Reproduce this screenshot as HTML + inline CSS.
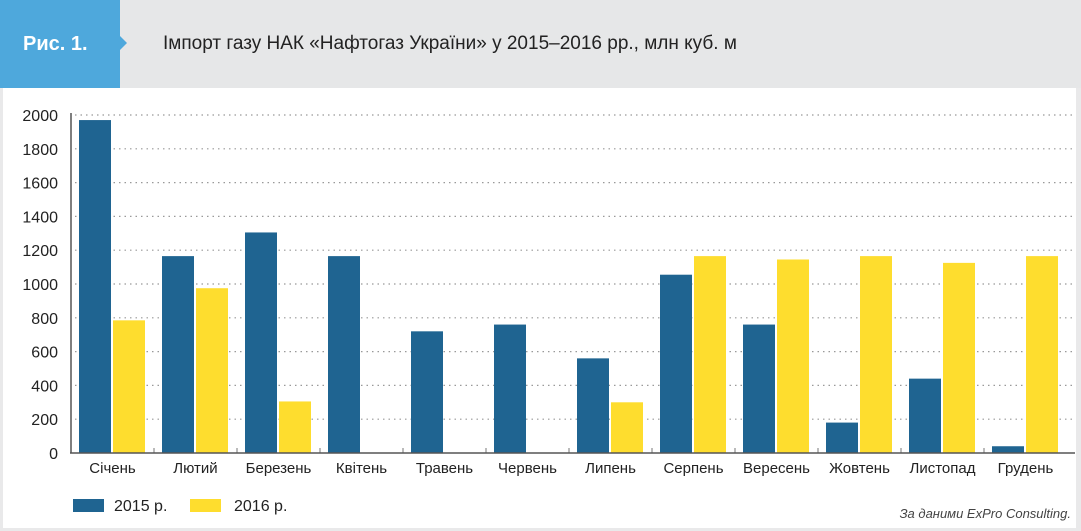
<!DOCTYPE html>
<html><head><meta charset="utf-8"><style>
body{margin:0;width:1081px;height:531px;background:#e9e9ea;font-family:"Liberation Sans",sans-serif;overflow:hidden;position:relative}
.hdr{position:absolute;left:0;top:0;width:1081px;height:88px;background:#e6e7e8}
.tab{position:absolute;left:0;top:0;width:120px;height:88px;background:#4ea8dc}
.arrow{position:absolute;left:119px;top:35px;width:0;height:0;border-top:8px solid transparent;border-bottom:8px solid transparent;border-left:8px solid #4ea8dc}
.tabt{position:absolute;left:23px;top:33px;color:#fff;font-weight:bold;font-size:20px}
.title{position:absolute;left:163px;top:33px;font-size:19px;color:#222}
.panel{position:absolute;left:3px;top:88px;width:1073px;height:440px;background:#fff}
</style></head><body>
<div class="hdr"></div>
<div class="tab"></div>
<div class="arrow"></div>
<div class="tabt">Рис. 1.</div>
<div class="title">Імпорт газу НАК «Нафтогаз України» у 2015–2016 рр., млн куб. м</div>
<div class="panel"></div>
<svg id="c" width="1081" height="531" style="position:absolute;left:0;top:0"></svg>
<script>
const categories=["Січень","Лютий","Березень","Квітень","Травень","Червень","Липень","Серпень","Вересень","Жовтень","Листопад","Грудень"];
const values2015=[1970,1165,1305,1165,720,760,560,1055,760,180,440,40];
const values2016=[785,975,305,0,0,0,300,1165,1145,1165,1125,1165];
const yTicks=[0,200,400,600,800,1000,1200,1400,1600,1800,2000];
const seriesNames=["2015 р.","2016 р."];
const NS="http://www.w3.org/2000/svg",svg=document.getElementById('c');
const x0=71,cw=83,yb=453,yt=115,ymax=2000;
const y=v=>yb-(v/ymax)*(yb-yt);
function mk(t,a,txt){const e=document.createElementNS(NS,t);for(const k in a)e.setAttribute(k,a[k]);if(txt!=null)e.textContent=txt;svg.appendChild(e);return e;}
yTicks.forEach(v=>{
 if(v>0){const g=mk('line',{x1:75,x2:1075,y1:y(v),y2:y(v),stroke:'#999','stroke-dasharray':'1.5 4','stroke-width':1.2});
 }
 const t=mk('text',{x:58,y:y(v)+6,'text-anchor':'end','font-size':16,fill:'#222','font-family':'Liberation Sans'},v);
 
});
categories.forEach((c,i)=>{
 const cx=x0+i*cw;
 const b1=mk('rect',{x:cx+8,y:y(values2015[i]),width:32,height:yb-y(values2015[i]),fill:'#1f6491'});
 
 const b2=mk('rect',{x:cx+42,y:y(values2016[i]),width:32,height:yb-y(values2016[i]),fill:'#fedd2e'});
 
 if(i>0){const tk=mk('line',{x1:cx,x2:cx,y1:yb-5,y2:yb,stroke:'#777'});}
 const t=mk('text',{x:cx+cw/2,y:473,'text-anchor':'middle','font-size':15,fill:'#222','font-family':'Liberation Sans'},c);
 
});
const ax=mk('line',{x1:71,x2:71,y1:113,y2:yb,stroke:'#555','stroke-width':1.5});
const bx=mk('line',{x1:70,x2:1075,y1:yb,y2:yb,stroke:'#555','stroke-width':1.5});
[[73,'#1f6491',114],[190,'#fedd2e',234]].forEach((l,i)=>{
 const r=mk('rect',{x:l[0],y:499,width:31,height:13,fill:l[1]});
 const t=mk('text',{x:l[2],y:511,'font-size':16,fill:'#222','font-family':'Liberation Sans'},seriesNames[i]);
});
const s=mk('text',{x:1071,y:518,'text-anchor':'end','font-size':13,'font-style':'italic',fill:'#444','font-family':'Liberation Sans'},'За даними ExPro Consulting.');

</script>
</body></html>
